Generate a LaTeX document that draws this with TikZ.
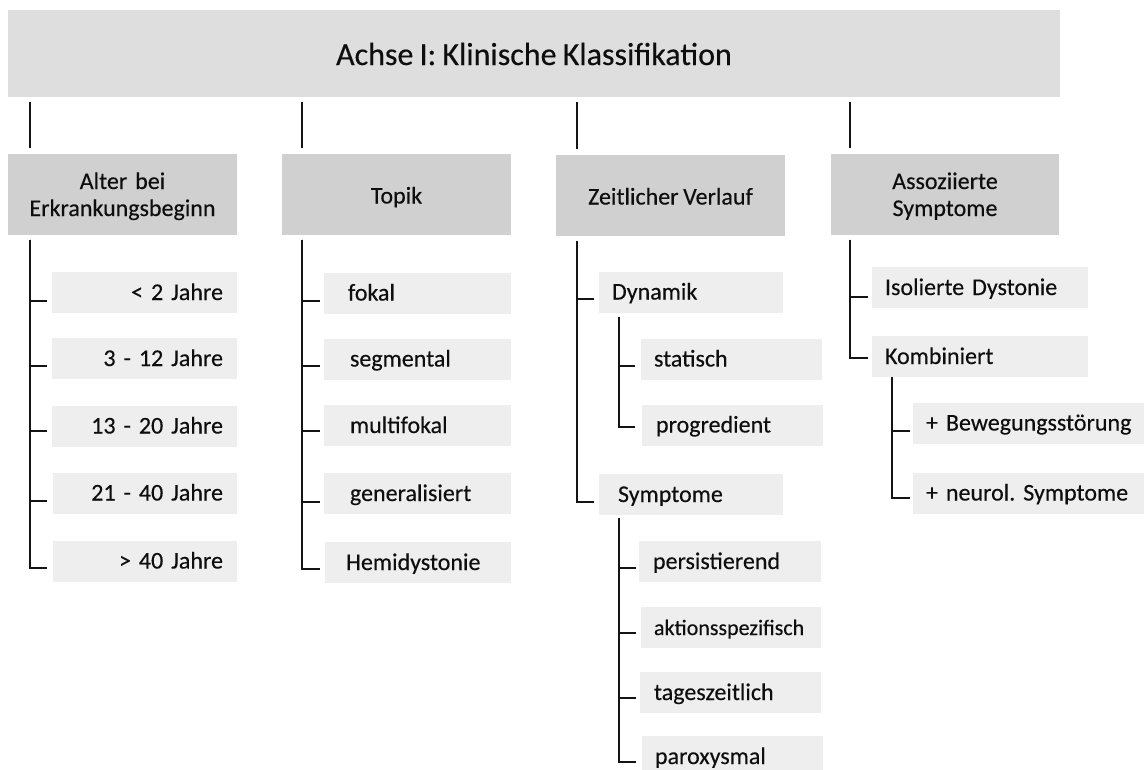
\documentclass[tikz,border=0pt]{standalone}
\usepackage{fontspec}
\setmainfont{Carlito}[WordSpace=0.85, FakeBold=0.3]
\definecolor{titlegray}{HTML}{DEDEDE}
\definecolor{catgray}{HTML}{D0D0D0}
\definecolor{leafgray}{HTML}{EEEEEE}
\definecolor{txt}{HTML}{0E0E0E}
\definecolor{linec}{HTML}{141414}
\tikzset{
  titlebox/.style={fill=titlegray, minimum width=1052pt, minimum height=87pt, inner sep=0pt, outer sep=0pt, text=txt, text height=25pt, text depth=2pt, font=\fontsize{32}{38}\selectfont},
  catbox/.style={fill=catgray, minimum width=228pt, minimum height=81pt, inner sep=0pt, outer sep=0pt, align=center, text=txt, text height=21pt, text depth=2pt, font=\fontsize{24}{27}\selectfont},
  cattwo/.style={text width=220pt, text height=16pt, text depth=26pt},
  leafbox/.style={fill=leafgray, minimum height=41pt, inner ysep=0pt, outer sep=0pt, anchor=west, text=txt, text height=19pt, text depth=4pt, font=\fontsize{24}{28}\selectfont},
  link/.style={draw=linec, line width=1.4pt}
}
\newcommand\leafnode[8][]{%
  \pgfmathsetmacro\lw{#4-#3-2*#6}%
  \node[leafbox, text width=\lw pt, inner xsep=#6pt, align=#7, #1] (#2) at (#3,#5) {\mbox{#8}};}
\newcommand\tick[4]{% trunk, node, dy, gap
  \draw[link] (#1) |- ([xshift=-#4pt,yshift=-#3pt]#2.west);}
\frenchspacing
\begin{document}
\begin{tikzpicture}[x=1pt,y=-1pt]
\useasboundingbox (0,0) rectangle (1144,769);
% title
\node[titlebox] (title) at (534,53.5) {Achse I: Klinische Klassifikation};
% categories
\node[catbox, cattwo, minimum width=229pt] (cat1) at (122.5,194) {Alter bei\\Erkrankungsbeginn};
\node[catbox, minimum width=229pt] (cat2) at (396.5,194) {Topik};
\node[catbox, minimum width=229pt] (cat3) at (670.5,195) {Zeitlicher Verlauf};
\node[catbox, cattwo, minimum width=228pt] (cat4) at (945,194) {Assoziierte\\Symptome};
% trunk x positions
\coordinate (k1) at (30,0);
\coordinate (k2) at (302,0);
\coordinate (k3) at (577,0);
\coordinate (k4) at (850,0);
\foreach \k/\c in {k1/cat1,k2/cat2,k3/cat3,k4/cat4}{
  \draw[link, shorten <=5pt, shorten >=6pt] (\k |- title.south) -- (\k |- \c.north);
}
% column 1
\leafnode{a1}{52}{237}{292.5}{14}{right}{< 2 Jahre}
\leafnode{a2}{52}{237}{358.5}{14}{right}{3 - 12 Jahre}
\leafnode{a3}{52}{237}{426}{14}{right}{13 - 20 Jahre}
\leafnode{a4}{53}{237}{493}{14}{right}{21 - 40 Jahre}
\leafnode{a5}{53}{237}{561}{14}{right}{> 40 Jahre}
\coordinate (t1) at ([yshift=-5pt]k1 |- cat1.south);
\tick{t1}{a1}{8.5}{5}
\tick{t1}{a2}{7.5}{5}
\tick{t1}{a3}{5}{5}
\tick{t1}{a4}{8}{6}
\tick{t1}{a5}{7}{6}
% column 2
\leafnode{b1}{324}{511}{293}{24}{left}{fokal}
\leafnode{b2}{324}{511}{359}{26}{left}{segmental}
\leafnode{b3}{324}{511}{425.5}{26}{left}{multifokal}
\leafnode{b4}{324}{511}{493.5}{26}{left}{generalisiert}
\leafnode{b5}{325}{511}{562.5}{21}{left}{Hemidystonie}
\coordinate (t2) at ([yshift=-5pt]k2 |- cat2.south);
\tick{t2}{b1}{8}{4}
\tick{t2}{b2}{7}{4}
\tick{t2}{b3}{5.5}{4}
\tick{t2}{b4}{8.5}{4}
\tick{t2}{b5}{6.5}{5}
% column 3
\leafnode{c1}{599}{783}{292}{13}{left}{Dynamik}
\leafnode{c2}{599}{783}{494.5}{19}{left}{Symptome}
\coordinate (t3) at ([yshift=-5pt]k3 |- cat3.south);
\tick{t3}{c1}{7}{5}
\tick{t3}{c2}{7.5}{5}
\leafnode{d1}{641}{822}{359}{13}{left}{statisch}
\leafnode{d2}{642}{823}{425}{14}{left}{progredient}
\coordinate (kd) at (619,0);
\coordinate (td) at ([yshift=-4pt]kd |- c1.south);
\tick{td}{d1}{7}{6}
\tick{td}{d2}{2}{7}
\leafnode{e1}{639}{821}{561.5}{14}{left}{persistierend}
\leafnode[font=\fontsize{22}{26}\selectfont]{e2}{641}{821}{627.5}{13}{left}{aktionsspezifisch}
\leafnode{e3}{640}{821}{692.5}{14}{left}{tageszeitlich}
\leafnode{e4}{642}{823}{756.5}{13}{left}{paroxysmal}
\coordinate (te) at ([yshift=-3pt]kd |- c2.south);
\tick{te}{e1}{6.5}{3}
\tick{te}{e2}{5.5}{5}
\tick{te}{e3}{5.5}{4}
\tick{te}{e4}{5.5}{6}
% column 4
\leafnode{f1}{872}{1088}{287.5}{13}{left}{Isolierte Dystonie}
\leafnode{f2}{872}{1088}{356.5}{13}{left}{Kombiniert}
\coordinate (t4) at ([yshift=-5pt]k4 |- cat4.south);
\tick{t4}{f1}{9.5}{4}
\tick{t4}{f2}{1.5}{4}
\leafnode{g1}{913}{1144}{423}{13}{left}{+ Bewegungsstörung}
\leafnode{g2}{913}{1144}{493}{13}{left}{+ neurol. Symptome}
\coordinate (kg) at (892,0);
\coordinate (tg) at (kg |- f2.south);
\tick{tg}{g1}{8}{3}
\tick{tg}{g2}{5}{3}
\end{tikzpicture}
\end{document}
